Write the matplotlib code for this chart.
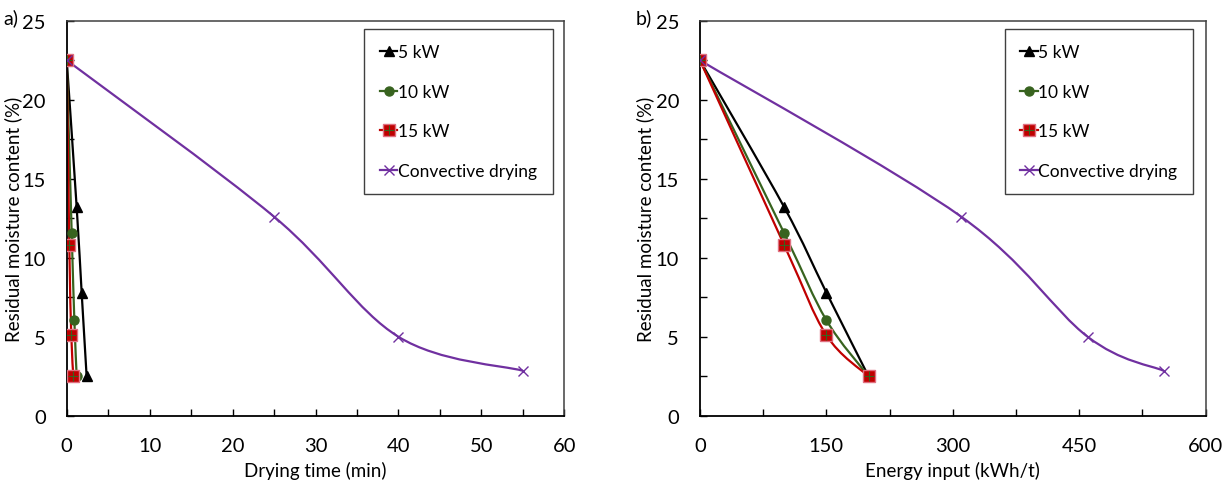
import matplotlib as mpl
import matplotlib.pyplot as plt
from matplotlib.lines import Line2D
from matplotlib.path import Path
from matplotlib.patches import PathPatch
from matplotlib.ticker import MultipleLocator

OUTPUT = 'out.png'

# residual moisture content (%) at each measured point
moisture_5kw = [22.5, 13.2, 7.8, 2.5]
moisture_10kw = [22.5, 11.55, 6.05, 2.5]
moisture_15kw = [22.5, 10.8, 5.1, 2.5]
moisture_conv = [22.5, 12.6, 5.0, 2.85]

# drying time (min)
time_5kw = [0, 1.2, 1.8, 2.4]
time_10kw = [0, 0.6, 0.92, 1.2]
time_15kw = [0, 0.31, 0.55, 0.8]
time_conv = [0, 25, 40, 55]

# energy input (kWh/t)
energy_5kw = [0, 100, 150, 200]
energy_10kw = [0, 100, 150, 200]
energy_15kw = [0, 100, 150, 200]
energy_conv = [0, 310, 460, 550]

labels = ['5 kW', '10 kW', '15 kW', 'Convective drying']

BLACK = '#000000'
GREEN = '#38631F'
RED = '#C00000'
PURPLE = '#7030A0'

plt.rcParams['font.family'] = ['Lato', 'DejaVu Sans']
plt.rcParams['font.size'] = 13


def smooth_path(x, y):
    """Excel-like smoothed line: Catmull-Rom segments as cubic Beziers"""
    pts = list(zip(x, y))
    n = len(pts)
    verts = [pts[0]]
    codes = [Path.MOVETO]
    for i in range(n - 1):
        p0 = pts[max(i - 1, 0)]
        p1 = pts[i]
        p2 = pts[i + 1]
        p3 = pts[min(i + 2, n - 1)]
        c1 = (p1[0] + (p2[0] - p0[0]) / 6, p1[1] + (p2[1] - p0[1]) / 6)
        c2 = (p2[0] - (p3[0] - p1[0]) / 6, p2[1] - (p3[1] - p1[1]) / 6)
        verts += [c1, c2, p2]
        codes += [Path.CURVE4] * 3
    return Path(verts, codes)


def draw_series(ax, x, y, color):
    patch = PathPatch(smooth_path(x, y), facecolor='none', edgecolor=color,
                      lw=1.6, transform=ax.transData, zorder=2)
    ax.add_patch(patch)


def panel(ax, xs, xmax, xmajor, xminor, xlabel, legend_x):
    x5, x10, x15, xc = xs
    draw_series(ax, x5, moisture_5kw, BLACK)
    ax.plot(x5, moisture_5kw, ls='none', marker='^', ms=7, color=BLACK, zorder=3)
    draw_series(ax, x10, moisture_10kw, GREEN)
    ax.plot(x10, moisture_10kw, ls='none', marker='o', ms=6.5, color=GREEN, zorder=3)
    draw_series(ax, x15, moisture_15kw, RED)
    ax.plot(x15, moisture_15kw, ls='none', marker='s', ms=8.5, color=RED,
            mec='#E07080', mew=1, zorder=3)
    ax.plot(x15, moisture_15kw, ls='none', marker='+', ms=6.5, color=GREEN,
            mew=0.8, zorder=3)
    draw_series(ax, xc, moisture_conv, PURPLE)
    ax.plot(xc, moisture_conv, ls='none', marker='x', ms=7, color=PURPLE,
            mew=1, zorder=4)

    ax.set_xlim(0, xmax)
    ax.set_ylim(0, 25)
    ax.xaxis.set_major_locator(MultipleLocator(xmajor))
    ax.xaxis.set_minor_locator(MultipleLocator(xminor))
    ax.yaxis.set_major_locator(MultipleLocator(5))
    ax.yaxis.set_minor_locator(MultipleLocator(2.5))
    ax.tick_params(which='both', direction='in', length=5, width=1, pad=15,
                   labelsize=14.5)
    ax.tick_params(axis='y', pad=15)

    for side in ['left', 'bottom']:
        ax.spines[side].set_color(BLACK)
        ax.spines[side].set_linewidth(1.3)
    for side in ['top', 'right']:
        ax.spines[side].set_color('#404040')
        ax.spines[side].set_linewidth(1.1)

    ax.set_xlabel(xlabel, fontsize=13.5)
    ax.set_ylabel('Residual moisture content (%)', fontsize=13.5)
    ax.xaxis.set_label_coords(0.5, -0.115)
    ax.yaxis.set_label_coords(-0.09, 0.5)

    handles = [
        Line2D([], [], color=BLACK, lw=1.6, marker='^', ms=7),
        Line2D([], [], color=GREEN, lw=1.6, marker='o', ms=6.5),
        (Line2D([], [], color=RED, lw=1.6, marker='s', ms=8.5, mec='#E07080', mew=1),
         Line2D([], [], ls='none', marker='+', ms=6.5, color=GREEN, mew=0.8)),
        Line2D([], [], color=PURPLE, lw=1.6, marker='x', ms=7, mew=1),
    ]
    leg = ax.legend(handles, labels, loc='upper right',
                    bbox_to_anchor=(legend_x, 0.98), fontsize=12.5,
                    handlelength=1.0, handletextpad=0.05, labelspacing=1.35,
                    borderpad=0.9, borderaxespad=0, fancybox=False,
                    framealpha=1, edgecolor='#404040')
    leg.get_frame().set_linewidth(1.0)


def plot():
    fig = plt.figure(figsize=(12.31, 4.85), dpi=100)
    ax1 = fig.add_axes([0.0542, 0.1407, 0.4042, 0.8144])
    ax2 = fig.add_axes([0.5686, 0.1407, 0.4108, 0.8144])

    panel(ax1, (time_5kw, time_10kw, time_15kw, time_conv), 60, 10, 5,
          'Drying time (min)', 0.977)
    panel(ax2, (energy_5kw, energy_10kw, energy_15kw, energy_conv), 600, 150, 75,
          'Energy input (kWh/t)', 0.975)

    fig.text(0.003, 0.962, 'a)', fontsize=14, va='center')
    fig.text(0.516, 0.962, 'b)', fontsize=14, va='center')

    fig.savefig(OUTPUT, dpi=100)


if __name__ == '__main__':
    plot()
